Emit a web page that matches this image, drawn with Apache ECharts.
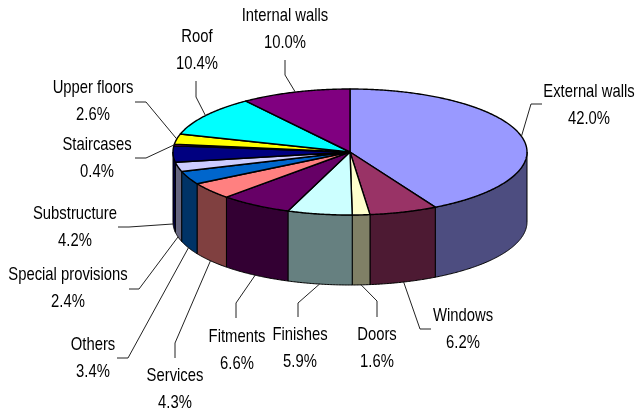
<!DOCTYPE html>
<html>
<head>
<meta charset="utf-8">
<style>html,body{margin:0;padding:0;background:#fff}#chart{width:635px;height:414px}</style>
<script src="https://cdn.jsdelivr.net/npm/echarts@6/dist/echarts.min.js"></script>
</head>
<body>
<div id="chart"></div>
<script>
// Cost breakdown by building element, clockwise from twelve o'clock
const categories = ['External walls','Windows','Doors','Finishes','Fitments','Services','Others',
  'Special provisions','Substructure','Staircases','Upper floors','Roof','Internal walls'];
const shares = [42.0,6.2,1.6,5.9,6.6,4.3,3.4,2.4,4.2,0.4,2.6,10.4,10.0];
const topColors = ['#9999FF','#993366','#FFFFCC','#CCFFFF','#660066','#FF8080','#0066CC',
  '#CCCCFF','#000080','#FF00FF','#FFFF00','#00FFFF','#800080'];

// Disc geometry of the tilted pie
const cx = 350, cy = 152, rx = 177, ry = 63, depth = 70;

// Label layout: text centre (first line) and the two free points of each leader
const labelCentres = [[589,90],[463,314],[377,333],[300,333],[237,335],[175,374],[93,343],
  [68,273],[75,212],[97,143],[93,86],[197,35],[285,14]];
const leaderElbows = [[[542,104],[531,104]],[[431,329],[420,329]],[[377,317],[377,301]],
  [[298,317],[298,303]],[[236,318],[236,303]],[[175,358],[175,343]],[[117,358],[128,358]],
  [[129,289],[139,289]],[[118,227],[129,227]],[[135,158],[146,158]],[[135,102],[146,102]],
  [[196,81],[196,97]],[[285,60],[285,75]]];

const total = shares.reduce((a, b) => a + b, 0);
const DEG = Math.PI / 180;
const angleOf = pct => pct / total * 360;
const rim = (deg, dy) => [cx + rx * Math.sin(deg * DEG), cy - ry * Math.cos(deg * DEG) + (dy || 0)];
function spanOf(i) {
  let s = 0;
  for (let k = 0; k < i; k++) s += shares[k];
  return [angleOf(s), angleOf(s + shares[i])];
}
function arc(a0, a1, dy) {
  const n = Math.max(2, Math.ceil(Math.abs(a1 - a0) * 2));
  const pts = [];
  for (let k = 0; k <= n; k++) pts.push(rim(a0 + (a1 - a0) * k / n, dy));
  return pts;
}
function shade(hex) {
  const n = parseInt(hex.slice(1), 16);
  return 'rgb(' + [(n >> 16) & 255, (n >> 8) & 255, n & 255].map(v => Math.round(v / 2)).join(',') + ')';
}

const rows = categories.map((name, i) => [i, shares[i], name]);

function wallItem(params) {
  const i = params.dataIndex, [a0, a1] = spanOf(i);
  const lo = Math.max(a0, 90), hi = Math.min(a1, 270);
  if (hi <= lo) return { type: 'group', children: [] };
  const points = arc(lo, hi, 0).concat(arc(hi, lo, depth));
  return { type: 'polygon', shape: { points },
    style: { fill: shade(topColors[i]), stroke: '#000', lineWidth: 1, lineJoin: 'round' } };
}
function topItem(params) {
  const i = params.dataIndex, [a0, a1] = spanOf(i);
  const points = [[cx, cy]].concat(arc(a0, a1, 0));
  return { type: 'polygon', shape: { points },
    style: { fill: topColors[i], stroke: '#000', lineWidth: 1.4, lineJoin: 'round' } };
}
function labelItem(params, api) {
  const i = params.dataIndex, [a0, a1] = spanOf(i);
  const mid = (a0 + a1) / 2;
  const front = mid > 90 && mid < 270;
  const anchor = rim(mid, front ? depth : 0);
  const [tx, ty] = labelCentres[i];
  return { type: 'group', children: [
    { type: 'polyline', shape: { points: leaderElbows[i].concat([anchor]) },
      style: { fill: null, stroke: '#222', lineWidth: 1 } },
    // Arial-style face squeezed horizontally to a narrow set width
    { type: 'text', x: tx, y: ty - 12.5, scaleX: 0.78, style: {
        text: api.value(2) + '\n' + api.value(1).toFixed(1) + '%',
        align: 'center', verticalAlign: 'top', lineHeight: 27.8,
        font: '19px "Liberation Sans",sans-serif', fill: '#000' } }
  ] };
}

const base = { type: 'custom', coordinateSystem: 'none', data: rows, animation: false, silent: true };
const chart = echarts.init(document.getElementById('chart'), null, { renderer: 'canvas' });
chart.setOption({
  animation: false,
  backgroundColor: '#fff',
  tooltip: { show: false },
  series: [
    Object.assign({}, base, { name: 'walls', z: 1, renderItem: wallItem,
      dimensions: ['idx','share','name'] }),
    Object.assign({}, base, { name: 'tops', z: 2, renderItem: topItem,
      dimensions: ['idx','share','name'] }),
    Object.assign({}, base, { name: 'labels', z: 3, renderItem: labelItem,
      dimensions: ['idx','share',{ name: 'name', type: 'ordinal' }] })
  ]
});
</script>
</body>
</html>
